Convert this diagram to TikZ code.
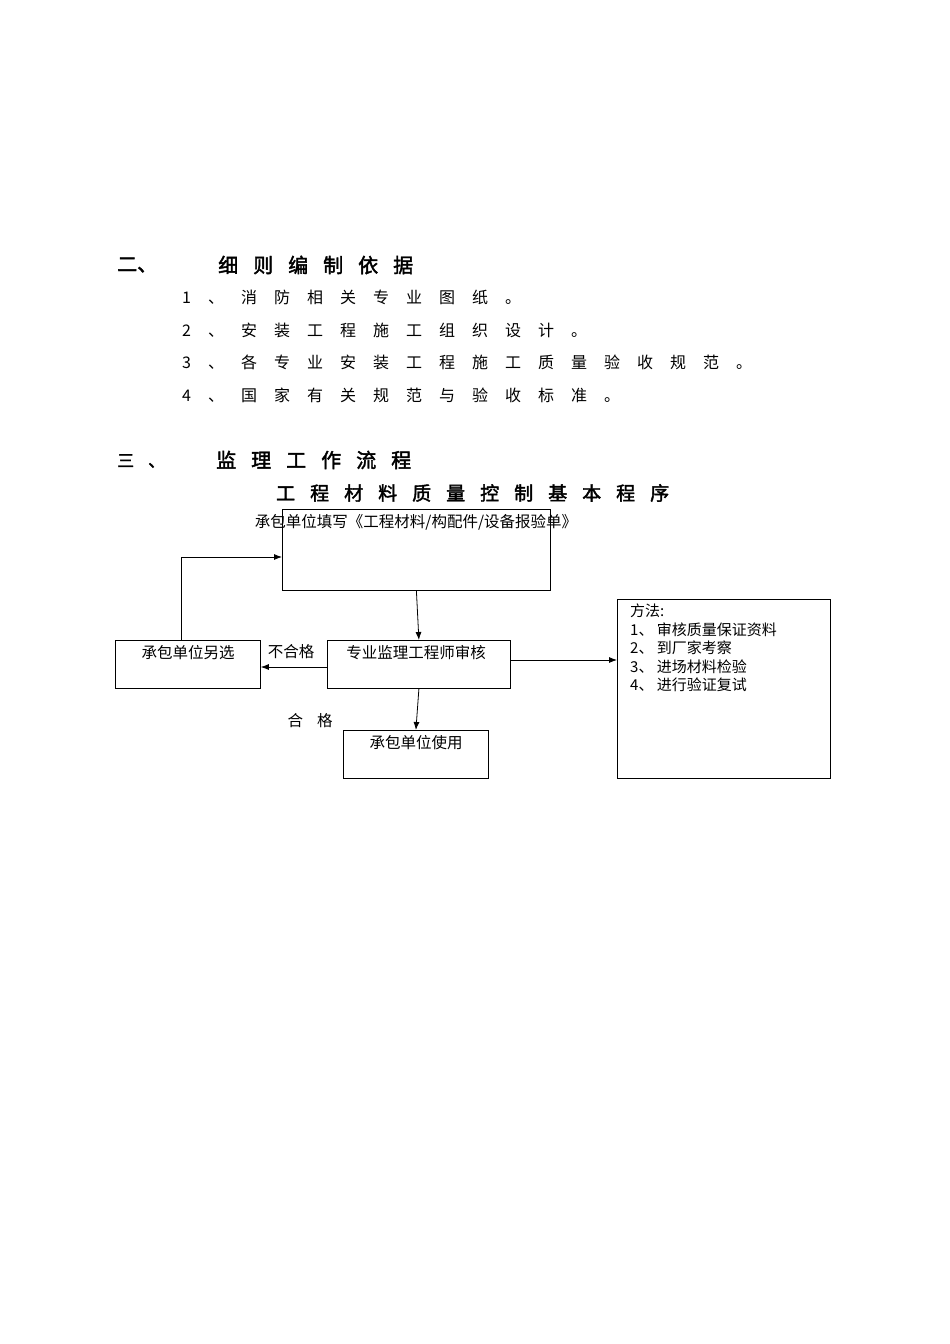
\documentclass[tikz,border=0pt]{standalone}
\usepackage{fontspec}
\setmainfont{Liberation Serif}
\newfontfamily\cjk{Noto Sans CJK SC}
\newfontfamily\cjkb[FakeBold=2]{Noto Sans CJK SC}
\usetikzlibrary{arrows.meta}
\newlength\spgap
\def\spc#1{\ifx#1\relax\else#1\hspace{\spgap}\expandafter\spc\fi}
\tikzset{
 box/.style={draw,line width=0.8pt,inner sep=0,anchor=north west},
 lbl/.style={inner sep=0,anchor=north,font=\cjk\fontsize{15.5}{18}\selectfont},
 lbll/.style={inner sep=0,anchor=north west,font=\cjk\fontsize{15}{18.5}\selectfont,align=left},
 itm/.style={inner sep=0,anchor=west,font=\cjk\fontsize{16}{18}\selectfont},
 hd/.style={inner sep=0,anchor=west,font=\cjkb\fontsize{20}{22}\selectfont},
 arr/.style={line width=0.8pt,-{Latex[length=8pt,width=6pt]}}
}
\begin{document}
\begin{tikzpicture}[x=1pt,y=-1pt]
\useasboundingbox (0,0) rectangle (950,1344);
\node[hd] (h2) at (117,265) {二、};
\node[hd] (h2t) at (218,265) {\setlength\spgap{15pt}\spc 细则编制依据\relax};
\node[itm] (i1) at (182,297) {\setlength\spgap{17pt}\spc 1、消防相关专业图纸。\relax};
\node[itm] (i2) at (182,330) {\setlength\spgap{17pt}\spc 2、安装工程施工组织设计。\relax};
\node[itm] (i3) at (182,362) {\setlength\spgap{17pt}\spc 3、各专业安装工程施工质量验收规范。\relax};
\node[itm] (i4) at (182,395) {\setlength\spgap{17pt}\spc 4、国家有关规范与验收标准。\relax};
\node[hd,font=\cjkb\fontsize{17}{20}\selectfont] (h3) at (117,461) {\setlength\spgap{14pt}\spc 三、\relax};
\node[hd] (h3t) at (216,460) {\setlength\spgap{15pt}\spc 监理工作流程\relax};
\node[hd,font=\cjkb\fontsize{19}{21}\selectfont] (tt) at (276,493) {\setlength\spgap{15pt}\spc 工程材料质量控制基本程序\relax};
% boxes
\node[box,minimum width=268,minimum height=81] (b1) at (282,509) {};
\node[lbl] (b1t) at (416,514) {承包单位填写\\[-1pt]《工程材料/构配件/设备报验单》};
\node[lbl,align=center,font=\cjk\fontsize{15.5}{17}\selectfont] at (416,514) {};
\node[box,minimum width=183,minimum height=48] (b2) at (327,640) {};
\node[lbl] (b2t) at (416,645) {专业监理工程师审核};
\node[box,minimum width=145,minimum height=48] (bl) at (115,640) {};
\node[lbl] (blt) at (188,645) {承包单位另选};
\node[box,minimum width=145,minimum height=48] (bb) at (343,730) {};
\node[lbl] (bbt) at (416,735) {承包单位使用};
\node[box,minimum width=213,minimum height=179] (br) at (617,599) {};
\node[lbll] (brt) at (630,604) {方法:\\1、 审核质量保证资料\\2、 到厂家考察\\3、 进场材料检验\\4、 进行验证复试};
\node[lbl] (ng) at (291,644) {不合格};
\node[lbl] (ok) at (310,713) {合\hspace{14pt}格};
% arrows
\coordinate (c1) at (181,557);
\draw[arr] (b1.south) -- (b2.north);
\draw[arr] (b2.west |- 0,667) -- (bl.east |- 0,667);
\draw[arr] (bl.north -| c1) -- (c1) -- (b1.west |- c1);
\draw[arr] (b2.south) -- (bb.north);
\draw[arr] (b2.east |- 0,660) -- (br.west |- 0,660);
\end{tikzpicture}
\end{document}
